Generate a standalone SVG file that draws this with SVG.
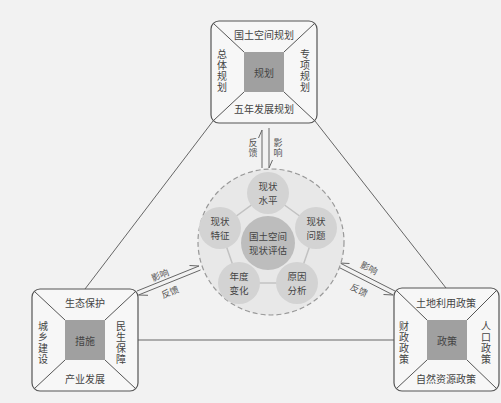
<svg xmlns="http://www.w3.org/2000/svg" width="501" height="403" viewBox="0 0 501 403">
<style>
.box{fill:#f7f7f7;stroke:#555;stroke-width:1.2}
.inner{fill:#a0a0a0}
.dg{stroke:#555;stroke-width:1;fill:none}
.ln{stroke:#666;stroke-width:1;fill:none}
.t{font-family:"Noto Sans CJK SC","Noto Sans CJK JP",sans-serif;font-size:10px;fill:#444;text-anchor:middle;dominant-baseline:central}
.v{writing-mode:vertical-rl;letter-spacing:1px}
.s{font-size:9px;fill:#555}
.c{font-size:9.5px}
.sat{fill:#d3d3d3}
.pl{stroke:#c2c2c2;stroke-width:1.5;fill:none}
</style>
<rect x="0" y="0" width="501" height="403" fill="#f2f2f2"/>

<g id="connectors">
  <line class="ln" x1="213" y1="121" x2="85" y2="289"/>
  <line class="ln" x1="315" y1="121" x2="446" y2="288"/>
  <line class="ln" x1="138" y1="340" x2="394" y2="340"/>
  <path class="ln" d="M262,168 V130 L258.5,138"/>
  <path class="ln" d="M269,128 V168 L272.5,160"/>
  <text class="t s v" x="253" y="148">反馈</text>
  <text class="t s v" x="278" y="148">影响</text>
  <path class="ln" d="M137,291 L199,266 L189.5,265.5"/>
  <path class="ln" d="M200.5,270 L138.5,295 L148,295.3"/>
  <text class="t s" transform="translate(160,275) rotate(-22)">影响</text>
  <text class="t s" transform="translate(170,292) rotate(-22)">反馈</text>
  <path class="ln" d="M395,291 L340,263 L349.5,263.5"/>
  <path class="ln" d="M338.2,267 L393.2,295 L383.5,294.5"/>
  <text class="t s" transform="translate(369,268) rotate(27)">影响</text>
  <text class="t s" transform="translate(359,290) rotate(27)">反馈</text>
</g>

<g id="top-box">
  <rect class="box" x="211" y="21" width="106" height="102" rx="8"/>
  <path class="dg" d="M213.5,23.5 L244,52 M314.5,23.5 L284,52 M213.5,120.5 L244,92 M314.5,120.5 L284,92"/>
  <rect class="inner" x="244" y="52" width="40" height="40"/>
  <text class="t" x="264" y="72">规划</text>
  <text class="t" x="264" y="34">国土空间规划</text>
  <text class="t" x="264" y="108">五年发展规划</text>
  <text class="t v" x="222" y="71.5">总体规划</text>
  <text class="t v" x="305" y="71.5">专项规划</text>
</g>

<g id="left-box">
  <rect class="box" x="32" y="289" width="106" height="102" rx="8"/>
  <path class="dg" d="M34.5,291.5 L65,320 M135.5,291.5 L105,320 M34.5,388.5 L65,360 M135.5,388.5 L105,360"/>
  <rect class="inner" x="65" y="320" width="40" height="40"/>
  <text class="t" x="85" y="340">措施</text>
  <text class="t" x="85" y="302">生态保护</text>
  <text class="t" x="85" y="378">产业发展</text>
  <text class="t v" x="43" y="343">城乡建设</text>
  <text class="t v" x="121" y="343">民生保障</text>
</g>

<g id="right-box">
  <rect class="box" x="394" y="288" width="105" height="103" rx="8"/>
  <path class="dg" d="M396.5,290.5 L427,320 M496.5,290.5 L467,320 M396.5,388.5 L427,360 M496.5,388.5 L467,360"/>
  <rect class="inner" x="427" y="320" width="40" height="40"/>
  <text class="t" x="447" y="340">政策</text>
  <text class="t" x="446" y="302">土地利用政策</text>
  <text class="t" x="446" y="378">自然资源政策</text>
  <text class="t v" x="404" y="343">财政政策</text>
  <text class="t v" x="486" y="343">人口政策</text>
</g>

<g id="assessment">
  <circle cx="271" cy="242" r="73" fill="#e8e8e8" stroke="#999" stroke-width="1.2" stroke-dasharray="5,3"/>
  <path class="pl" d="M268,193 L316,228 L297,283 L239,283 L220,228 Z"/>
  <circle cx="268" cy="243" r="27" fill="#bdbdbd"/>
  <text class="t c"><tspan x="268" y="236">国土空间</tspan><tspan x="268" y="250">现状评估</tspan></text>
</g>
<g id="sat-level">
  <circle class="sat" cx="268" cy="193" r="21"/>
  <text class="t c"><tspan x="268" y="186">现状</tspan><tspan x="268" y="200">水平</tspan></text>
</g>
<g id="sat-problem">
  <circle class="sat" cx="316" cy="228" r="21"/>
  <text class="t c"><tspan x="316" y="221">现状</tspan><tspan x="316" y="235">问题</tspan></text>
</g>
<g id="sat-feature">
  <circle class="sat" cx="220" cy="228" r="21"/>
  <text class="t c"><tspan x="220" y="221">现状</tspan><tspan x="220" y="235">特征</tspan></text>
</g>
<g id="sat-change">
  <circle class="sat" cx="239" cy="283" r="21"/>
  <text class="t c"><tspan x="239" y="276">年度</tspan><tspan x="239" y="290">变化</tspan></text>
</g>
<g id="sat-cause">
  <circle class="sat" cx="297" cy="283" r="21"/>
  <text class="t c"><tspan x="297" y="276">原因</tspan><tspan x="297" y="290">分析</tspan></text>
</g>
</svg>
